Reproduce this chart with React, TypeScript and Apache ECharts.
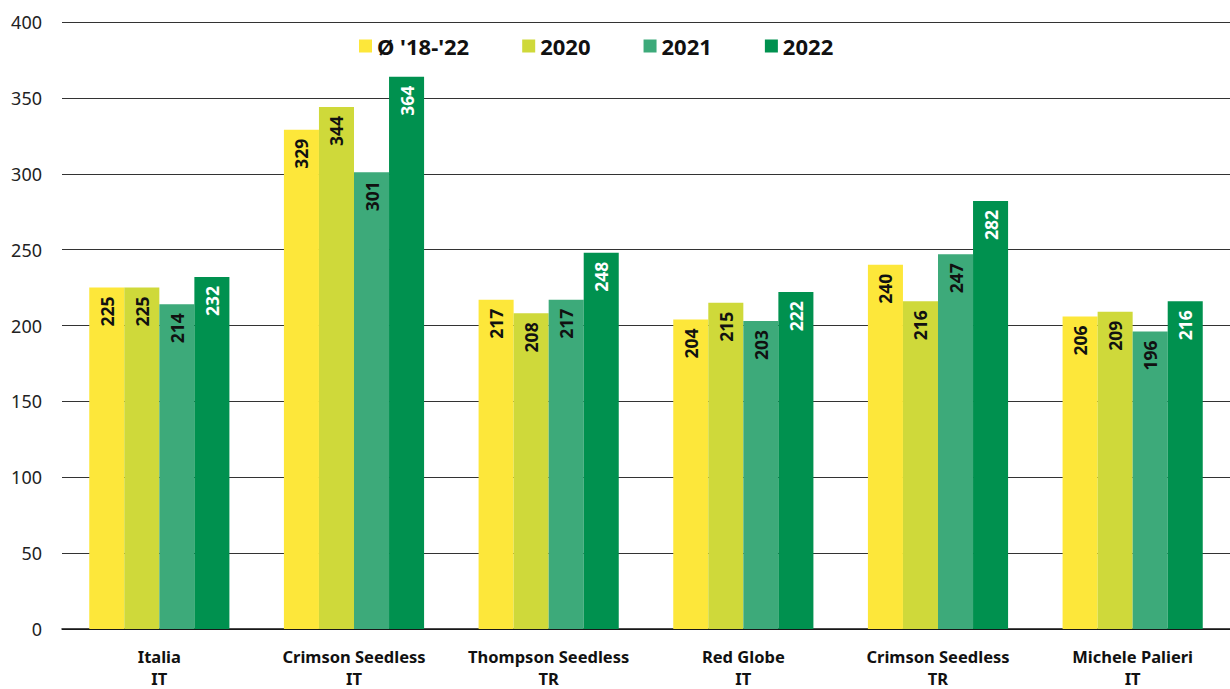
import React, { useEffect, useRef } from "react";
import * as echarts from "echarts";

const categories = [
  "Italia\nIT",
  "Crimson Seedless\nIT",
  "Thompson Seedless\nTR",
  "Red Globe\nIT",
  "Crimson Seedless\nTR",
  "Michele Palieri\nIT",
];
const seriesNames = ["Ø '18-'22", "2020", "2021", "2022"];
const avg = [225, 329, 217, 204, 240, 206];
const y2020 = [225, 344, 208, 215, 216, 209];
const y2021 = [214, 301, 217, 203, 247, 196];
const y2022 = [232, 364, 248, 222, 282, 216];
const seriesData = [avg, y2020, y2021, y2022];
const colors = ["#FDE73A", "#CFD93A", "#3DAA7A", "#00914F"];
const labelColors = ["#111", "#111", "#111", "#fff"];

const FONT = "'Noto Sans', sans-serif";

export default function App() {
  const ref = useRef<HTMLDivElement>(null);
  useEffect(() => {
    document.body.style.margin = "0";
    document.body.style.overflow = "hidden";
    const chart = echarts.init(ref.current!, undefined, { renderer: "svg" });
    chart.setOption({
      animation: false,
      textStyle: { fontFamily: FONT },
      legend: {
        top: 30,
        left: 354,
        itemWidth: 13,
        itemHeight: 13,
        itemGap: 53,
        itemTextGap: 10,
        icon: "rect",
        textStyle: { fontSize: 22, fontWeight: "bold", color: "#111", fontFamily: FONT },
        data: seriesNames,
      },
      grid: { left: 62, right: -3, top: 22, bottom: 55, containLabel: false },
      xAxis: {
        type: "category",
        data: categories,
        axisTick: { show: false },
        axisLine: { lineStyle: { color: "#111", width: 1.5 } },
        axisLabel: {
          fontSize: 16.5,
          fontWeight: "bold",
          color: "#111",
          lineHeight: 22,
          margin: 16,
          interval: 0,
        },
      },
      yAxis: {
        type: "value",
        min: 0,
        max: 400,
        interval: 50,
        axisLine: { show: false },
        axisTick: { show: false },
        axisLabel: { fontSize: 18, color: "#222", margin: 20 },
        splitLine: { lineStyle: { color: "#333", width: 1 } },
      },
      series: seriesNames.map((name, i) => ({
        name,
        type: "bar",
        data: seriesData[i],
        barGap: "0%",
        barCategoryGap: "28%",
        itemStyle: { color: colors[i] },
        label: {
          show: true,
          position: "insideTop",
          rotate: 90,
          align: "right",
          verticalAlign: "middle",
          distance: 9,
          fontSize: 17.5,
          fontWeight: "bold",
          color: labelColors[i],
          fontFamily: FONT,
        },
      })),
    });
    return () => chart.dispose();
  }, []);
  return <div ref={ref} style={{ width: 1230, height: 689 }} />;
}
